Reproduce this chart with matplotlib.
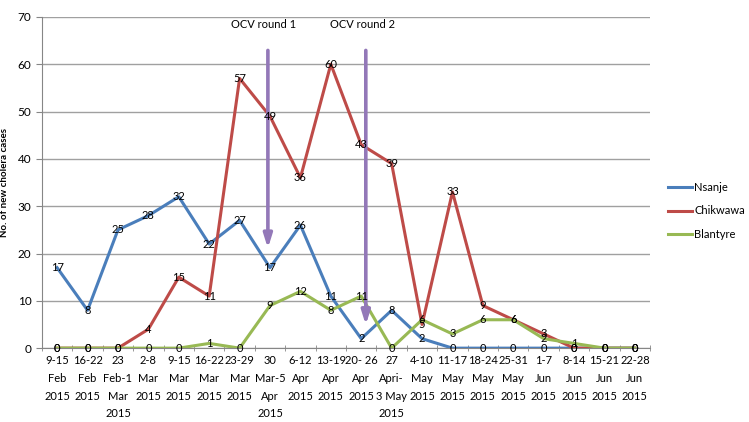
import numpy as np
import matplotlib.pyplot as plt

weeks = ["9-15\nFeb\n2015", "16-22\nFeb\n2015", "23\nFeb-1\nMar\n2015", "2-8\nMar\n2015",
         "9-15\nMar\n2015", "16-22\nMar\n2015", "23-29\nMar\n2015", "30\nMar-5\nApr\n2015",
         "6-12\nApr\n2015", "13-19\nApr\n2015", "20- 26\nApr\n2015", "27\nApri-\n3 May\n2015",
         "4-10\nMay\n2015", "11-17\nMay\n2015", "18-24\nMay\n2015", "25-31\nMay\n2015",
         "1-7\nJun\n2015", "8-14\nJun\n2015", "15-21\nJun\n2015", "22-28\nJun\n2015"]
nsanje = [17, 8, 25, 28, 32, 22, 27, 17, 26, 11, 2, 8, 2, 0, 0, 0, 0, 0, 0, 0]
chikwawa = [0, 0, 0, 4, 15, 11, 57, 49, 36, 60, 43, 39, 5, 33, 9, 6, 3, 0, 0, 0]
blantyre = [0, 0, 0, 0, 0, 1, 0, 9, 12, 8, 11, 0, 6, 3, 6, 6, 2, 1, 0, 0]

plt.rcParams['font.family'] = ['Lato', 'DejaVu Sans']

fig = plt.figure(figsize=(7.49, 4.22), dpi=100)
ax = fig.add_axes([0.056, 0.175, 0.812, 0.785])

x = np.arange(len(weeks))
series = [("Nsanje", nsanje, "#4A7EBB"), ("Chikwawa", chikwawa, "#BE4B48"),
          ("Blantyre", blantyre, "#98B954")]
for name, vals, col in series:
    ax.plot(x, vals, color=col, lw=2.2, label=name, zorder=3)
for name, vals, col in series:
    for xi, v in zip(x, vals):
        ax.text(xi, v, str(v), ha="center", va="center", fontsize=8, color="black", zorder=5)

# OCV arrows
ax.annotate("", xy=(6.93, 20.5), xytext=(6.93, 63.5),
            arrowprops=dict(arrowstyle="-|>,head_length=0.8,head_width=0.25",
                            color="#9378B8", lw=2.6), zorder=4)
ax.annotate("", xy=(10.15, 4.3), xytext=(10.15, 63.5),
            arrowprops=dict(arrowstyle="-|>,head_length=0.8,head_width=0.25",
                            color="#9378B8", lw=2.6), zorder=4)
ax.text(6.8, 68.3, "OCV round 1", ha="center", va="center", fontsize=8)
ax.text(10.05, 68.3, "OCV round 2", ha="center", va="center", fontsize=8)

ax.set_xlim(-0.5, len(weeks) - 0.5)
ax.set_ylim(0, 70)
ax.set_yticks(np.arange(0, 71, 10))
ax.set_xticks(x)
ax.set_xticklabels(weeks, fontsize=8, va="top", linespacing=1.75)
ax.set_xticks(np.arange(-0.5, len(weeks), 1), minor=True)
ax.tick_params(axis="x", which="major", length=0, pad=5)
ax.tick_params(axis="x", which="minor", length=4, direction="inout", color="#868686")
ax.tick_params(axis="y", length=4, color="#868686", labelsize=8.5)
ax.yaxis.grid(True, color="#A0A0A0", lw=1)
ax.set_axisbelow(True)
for s in ["top", "right"]:
    ax.spines[s].set_visible(False)
for s in ["left", "bottom"]:
    ax.spines[s].set_color("#868686")
ax.set_ylabel("No. of new cholera cases", fontsize=7, fontweight="bold", labelpad=6)

ax.legend(loc="center left", bbox_to_anchor=(0.878, 0.5), bbox_transform=fig.transFigure,
          frameon=False, fontsize=8, handlelength=2.2, labelspacing=1.1, handletextpad=0.2)

fig.savefig("out.png", dpi=100)
